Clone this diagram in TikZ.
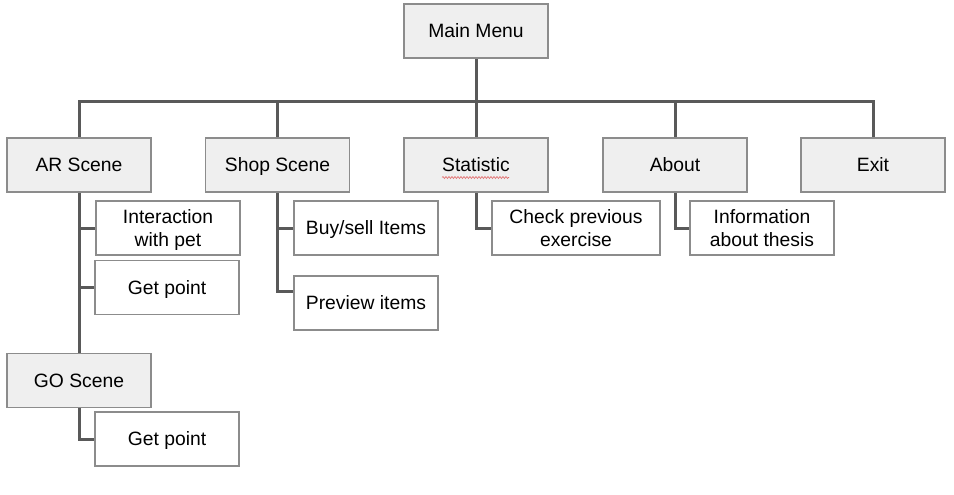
\documentclass[tikz,border=0pt]{standalone}
\usepackage{fontspec}
\setmainfont{Liberation Sans}
\usetikzlibrary{backgrounds,decorations.pathmorphing}
\definecolor{boxfill}{HTML}{EFEFEF}
\definecolor{boxline}{HTML}{8C8C8C}
\definecolor{conn}{HTML}{595959}
\definecolor{spell}{HTML}{E06666}
\begin{document}
\begin{tikzpicture}[x=1pt,y=-1pt,
  every node/.style={font=\fontsize{19.3}{23}\selectfont, text=black, inner sep=0pt},
  oneline/.style={text height=13.8pt, text depth=0pt},
  twoline/.style={align=center},
  menubox/.style={oneline, draw=boxline, line width=1.3pt, fill=boxfill, minimum width=144pt, minimum height=54pt},
  leafbox/.style={draw=boxline, line width=1.3pt, fill=white, minimum width=144pt, minimum height=54pt},
  link/.style={draw=conn, line width=3pt}]
\useasboundingbox (0,0) rectangle (954,495);
\node[menubox] (main) at (476,31) {Main Menu};
\node[menubox] (ar) at (79,165) {AR Scene};
\node[menubox] (shop) at (277.5,165) {Shop Scene};
\node[menubox] (stat) at (476,165) {Statistic};
\node[menubox] (about) at (675,165) {About};
\node[menubox] (exit) at (873,165) {Exit};
\node[leafbox, twoline] (inter) at (168,228) {Interaction\\\smash{with pet}};
\node[leafbox, oneline] (getp1) at (167,287.5) {Get point};
\node[leafbox, oneline] (buy) at (366,228) {Buy/sell Items};
\node[leafbox, oneline] (prev) at (366,303) {Preview items};
\node[leafbox, twoline, minimum width=168pt] (check) at (576,228) {Check previous\\\smash{exercise}};
\node[leafbox, twoline] (info) at (762,228) {Information\\\smash{about thesis}};
\node[menubox] (go) at (79,380.5) {GO Scene};
\node[leafbox, oneline] (getp2) at (167,439) {Get point};
\coordinate (bus) at (476,102);
\begin{pgfonlayer}{background}
\path[link] (main.south) -- (bus);
\path[link] (ar.north) |- (bus) -| (exit.north);
\path[link] (shop.north) -- (shop.north |- bus);
\path[link] (stat.north) -- (bus);
\path[link] (about.north) -- (about.north |- bus);
\path[link] (ar.south) -- (go.north);
\path[link] (inter.west) -- (inter.west -| ar.south);
\path[link] (getp1.west) -- (getp1.west -| ar.south);
\path[link] (buy.west) -| (shop.south);
\path[link] ([yshift=12pt]prev.west) -| (shop.south);
\path[link] (check.west) -| (stat.south);
\path[link] (info.west) -| (about.south);
\path[link] (getp2.west) -| (go.south);
\end{pgfonlayer}
\coordinate (sp1) at (442,177.5);
\coordinate (sp2) at (509,177.5);
\draw[spell, line width=0.6pt, decorate, decoration={snake, amplitude=1pt, segment length=3pt}] (sp1) -- (sp2);
\end{tikzpicture}
\end{document}
